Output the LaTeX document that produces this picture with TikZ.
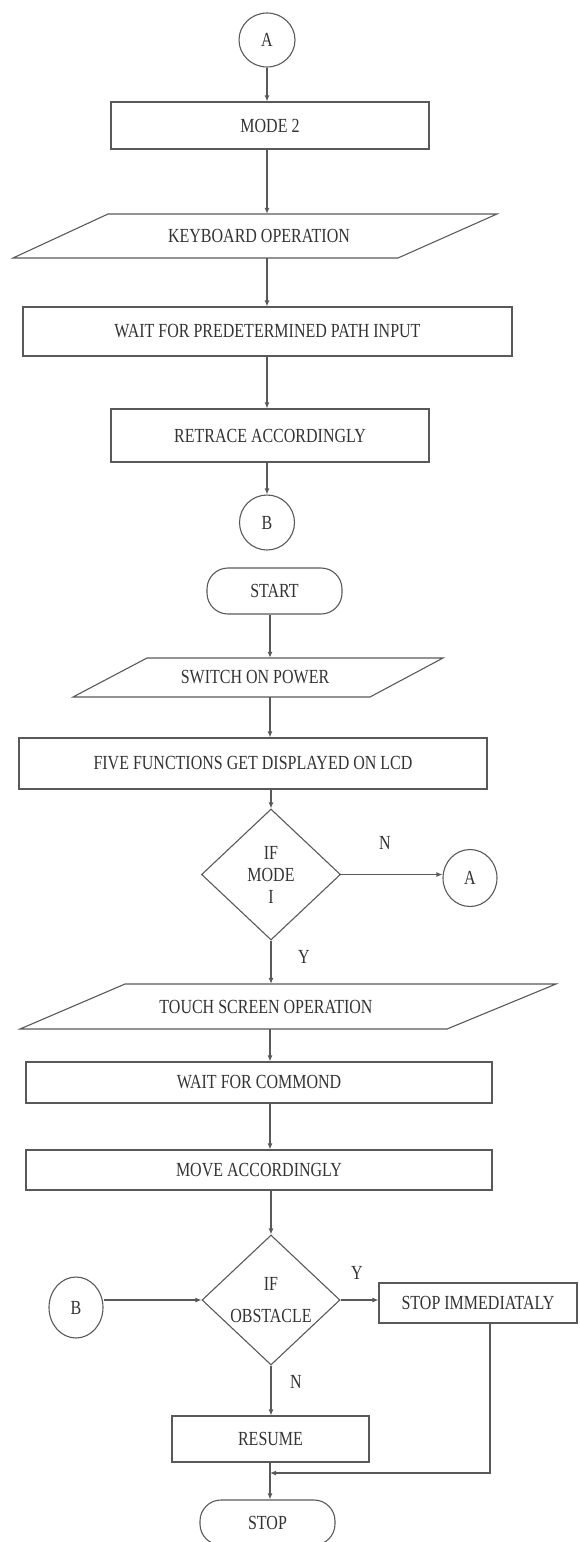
\documentclass[tikz,border=0pt]{standalone}
\usepackage{fontspec}
\setmainfont{Liberation Serif}[FakeStretch=0.8]
\usetikzlibrary{arrows.meta}
\usetikzlibrary{shapes.geometric}
\definecolor{lgray}{rgb}{0.35, 0.35, 0.35}
\definecolor{tgray}{rgb}{0.2, 0.2, 0.2}
\tikzset{line/.style = {draw=lgray, line width=1.1pt}}
\tikzset{flow/.style = {line, -{Latex[length=6pt, width=5pt]}}}
\tikzset{proc/.style = {line, rectangle, inner sep=0, text=tgray}}
\tikzset{term/.style = {proc, rounded corners=21pt}}
\tikzset{conn/.style = {line, ellipse, inner sep=0, text=tgray}}
\tikzset{io/.style = {rectangle, inner sep=0, text=tgray}}
\tikzset{dec/.style = {line, diamond, inner sep=0, text=tgray, align=center}}
\tikzset{lbl/.style = {text=tgray, inner sep=0}}

\begin{document}
\begin{tikzpicture}[x=1pt, y=-1pt, font=\fontsize{20}{22}\selectfont]
      \useasboundingbox (0,0) rectangle (579,1542);
      \coordinate (up) at (267,0);
      \coordinate (lo) at (270,0);
      \coordinate (tap) at (490,0);

      % mode 2 branch
      \node [conn, minimum width=56pt, minimum height=54pt] (a) at (267,40) {A};
      \node [proc, minimum width=318pt, minimum height=47pt] (mode) at (270,125.5) {MODE 2};
      \node [io, minimum width=300pt, minimum height=44pt] (kb) at (259,236) {KEYBOARD OPERATION};
      \draw [line] (108,214) -- (497,214) -- (398,258) -- (13,258) -- cycle;
      \node [proc, minimum width=489pt, minimum height=49pt] (pred) at (267.5,331.5) {WAIT FOR PREDETERMINED PATH INPUT};
      \node [proc, minimum width=318pt, minimum height=53pt] (retr) at (270,435.5) {RETRACE ACCORDINGLY};
      \node [conn, minimum width=55pt, minimum height=55pt] (b) at (267,522.5) {B};

      \draw [flow] (a) -- (mode.north -| up);
      \draw [flow] (mode.south -| up) -- (kb.north -| up);
      \draw [flow] (kb.south -| up) -- (pred.north -| up);
      \draw [flow] (pred.south -| up) -- (retr.north -| up);
      \draw [flow] (retr.south -| up) -- (b);

      % main flow
      \node [term, minimum width=135pt, minimum height=46pt] (start) at (274.5,591) {START};
      \node [io, minimum width=250pt, minimum height=39pt] (power) at (255,677.5) {SWITCH ON POWER};
      \draw [line] (147,658) -- (443,658) -- (370,697) -- (73,697) -- cycle;
      \node [proc, minimum width=468pt, minimum height=51pt] (lcd) at (253,763.5) {FIVE FUNCTIONS GET DISPLAYED ON LCD};
      \node [dec, minimum width=139pt, minimum height=131pt] (mode1) at (271,874.5) {IF\\MODE\\I};
      \node [conn, minimum width=54pt, minimum height=57pt] (a2) at (470,878) {A};
      \node [lbl] (n1) at (385,843) {N};
      \node [lbl] (y1) at (304,957) {Y};
      \node [io, minimum width=300pt, minimum height=45pt] (touch) at (266,1006.5) {TOUCH SCREEN OPERATION};
      \draw [line] (125,984) -- (556,984) -- (447,1029) -- (20,1029) -- cycle;
      \node [proc, minimum width=466pt, minimum height=41pt] (cmd) at (259,1082.5) {WAIT FOR COMMOND};
      \node [proc, minimum width=466pt, minimum height=40pt] (move) at (259,1170) {MOVE ACCORDINGLY};
      \node [dec, minimum width=138pt, minimum height=130pt] (obst) at (271,1300) {IF\\[10pt]OBSTACLE};
      \node [conn, minimum width=54pt, minimum height=61pt] (b2) at (76,1307.5) {B};
      \node [lbl] (y2) at (357,1273) {Y};
      \node [proc, minimum width=198pt, minimum height=40pt] (halt) at (478,1303) {STOP IMMEDIATALY};
      \node [lbl] (n2) at (296,1382) {N};
      \node [proc, minimum width=197pt, minimum height=46pt] (resume) at (270.5,1439) {RESUME};
      \node [term, minimum width=135pt, minimum height=45pt] (stop) at (267.5,1522.5) {STOP};
      \coordinate (join) at (270,1473);

      \draw [flow] (start.south -| lo) -- (power.north -| lo);
      \draw [flow] (power.south -| lo) -- (lcd.north -| lo);
      \draw [flow] (lcd.south -| mode1) -- (mode1.north);
      \draw [flow] (mode1.east) -- (mode1.east -| a2.west);
      \draw [flow] (mode1.south) -- (mode1.south |- touch.north);
      \draw [flow] (touch.south -| lo) -- (cmd.north -| lo);
      \draw [flow] (cmd.south -| lo) -- (move.north -| lo);
      \draw [flow] (move.south -| obst) -- (obst.north);
      \draw [flow] (b2.east |- obst) -- (obst.west);
      \draw [flow] (obst.east) -- (obst.east -| halt.west);
      \draw [flow] (obst.south) -- (obst.south |- resume.north);
      \draw [flow] (resume.south -| lo) -- (stop.north -| lo);
      \draw [flow] (halt.south -| tap) |- (join);
\end{tikzpicture}
\end{document}
